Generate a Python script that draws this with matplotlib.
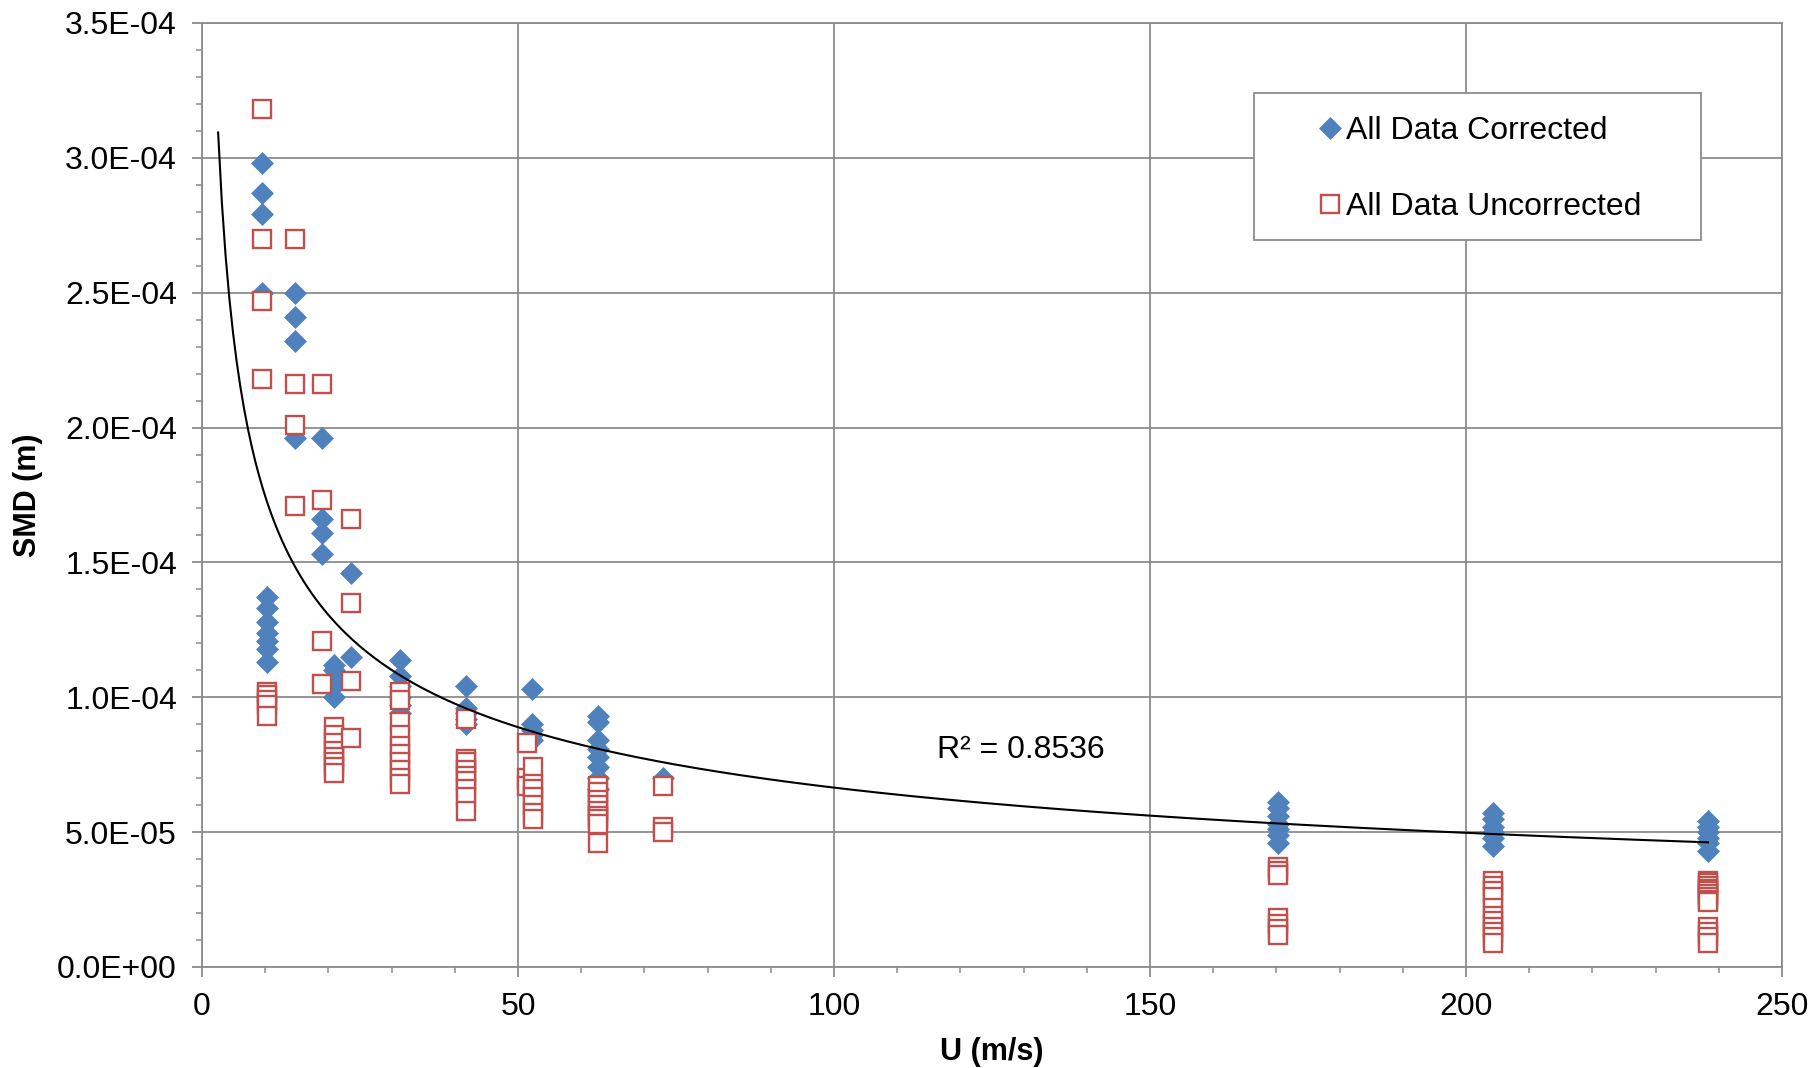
import numpy as np
import matplotlib
matplotlib.use("Agg")
import matplotlib.pyplot as plt
from matplotlib.patches import Rectangle
from matplotlib.ticker import MultipleLocator, FuncFormatter

plt.rcParams['font.family'] = ['Liberation Sans', 'DejaVu Sans']

# ---------------- data ----------------
# velocity groups (m/s) and SMD values (m) for each group
corr_u = [9.5, 10.3, 14.7, 19.0, 20.9, 23.6, 31.3, 41.8, 52.2, 62.6, 72.9, 170.2, 204.2, 238.3]
corr_smd = [
    [2.98e-4, 2.87e-4, 2.79e-4, 2.50e-4],
    [1.37e-4, 1.33e-4, 1.28e-4, 1.24e-4, 1.21e-4, 1.18e-4, 1.13e-4],
    [2.50e-4, 2.41e-4, 2.32e-4, 1.96e-4],
    [1.96e-4, 1.66e-4, 1.61e-4, 1.53e-4],
    [1.12e-4, 1.10e-4, 1.07e-4, 1.04e-4, 1.00e-4],
    [1.46e-4, 1.15e-4],
    [1.14e-4, 1.08e-4, 1.04e-4, 1.00e-4, 0.97e-4, 0.94e-4],
    [1.04e-4, 0.96e-4, 0.94e-4, 0.92e-4, 0.90e-4],
    [1.03e-4, 0.90e-4, 0.88e-4, 0.86e-4, 0.84e-4],
    [0.93e-4, 0.91e-4, 0.84e-4, 0.81e-4, 0.78e-4, 0.74e-4, 0.70e-4, 0.66e-4],
    [0.70e-4],
    [0.61e-4, 0.59e-4, 0.56e-4, 0.53e-4, 0.51e-4, 0.49e-4, 0.46e-4],
    [0.57e-4, 0.55e-4, 0.52e-4, 0.50e-4, 0.48e-4, 0.45e-4],
    [0.54e-4, 0.52e-4, 0.50e-4, 0.48e-4, 0.46e-4, 0.43e-4],
]

unc_u = [9.5, 10.3, 14.7, 19.0, 20.9, 23.6, 31.3, 41.8, 51.5, 52.4, 62.6, 72.9, 170.2, 204.2, 238.3]
unc_smd = [
    [3.18e-4, 2.70e-4, 2.47e-4, 2.18e-4],
    [1.02e-4, 1.01e-4, 0.99e-4, 0.97e-4, 0.93e-4],
    [2.70e-4, 2.16e-4, 2.01e-4, 1.71e-4],
    [2.16e-4, 1.73e-4, 1.21e-4, 1.05e-4],
    [0.89e-4, 0.86e-4, 0.83e-4, 0.80e-4, 0.78e-4, 0.76e-4, 0.74e-4, 0.72e-4],
    [1.66e-4, 1.35e-4, 1.06e-4, 0.85e-4],
    [1.02e-4, 0.99e-4, 0.91e-4, 0.86e-4, 0.82e-4, 0.79e-4, 0.76e-4, 0.73e-4, 0.70e-4, 0.68e-4],
    [0.92e-4, 0.77e-4, 0.76e-4, 0.73e-4, 0.71e-4, 0.69e-4, 0.66e-4, 0.63e-4, 0.58e-4],
    [0.83e-4, 0.70e-4, 0.67e-4],
    [0.74e-4, 0.68e-4, 0.66e-4, 0.63e-4, 0.60e-4, 0.57e-4, 0.55e-4],
    [0.67e-4, 0.65e-4, 0.62e-4, 0.60e-4, 0.58e-4, 0.56e-4, 0.55e-4, 0.53e-4, 0.46e-4],
    [0.67e-4, 0.52e-4, 0.50e-4],
    [0.37e-4, 0.355e-4, 0.34e-4, 0.18e-4, 0.16e-4, 0.14e-4, 0.12e-4],
    [0.32e-4, 0.30e-4, 0.28e-4, 0.26e-4, 0.22e-4, 0.19e-4, 0.17e-4, 0.15e-4, 0.13e-4, 0.11e-4, 0.09e-4],
    [0.32e-4, 0.31e-4, 0.30e-4, 0.29e-4, 0.28e-4, 0.27e-4, 0.26e-4, 0.25e-4, 0.24e-4,
     0.15e-4, 0.13e-4, 0.11e-4, 0.09e-4],
]

# power trendline SMD = a * U^b, coefficients
trend_a = 4.58e-4
trend_b = -0.419
trend_u_range = [2.55, 238.3]
r2_label = "R² = 0.8536"
legend_labels = ["All Data Corrected", "All Data Uncorrected"]
x_ticks = [0, 50, 100, 150, 200, 250]
y_ticks = [0.0, 5e-5, 1e-4, 1.5e-4, 2e-4, 2.5e-4, 3e-4, 3.5e-4]

# ---------------- expand groups ----------------
cu = np.concatenate([[u] * len(v) for u, v in zip(corr_u, corr_smd)])
cs = np.concatenate(corr_smd)
uu = np.concatenate([[u] * len(v) for u, v in zip(unc_u, unc_smd)])
us = np.concatenate(unc_smd)

tx = np.linspace(trend_u_range[0], trend_u_range[1], 400)
ty = trend_a * tx ** trend_b

# ---------------- figure ----------------
fig = plt.figure(figsize=(18.14, 10.68), dpi=100)
ax = fig.add_axes([202 / 1814, 1 - 967 / 1068, 1580 / 1814, 944 / 1068])

blue = '#4F81BD'
red = '#C0504D'
grid_c = '#8C8C8C'

ax.plot(cu, cs, linestyle='none', marker='D', markersize=10.8, color=blue,
        markeredgecolor=blue, markeredgewidth=0.5, label=legend_labels[0], zorder=3)
ax.plot(uu, us, linestyle='none', marker='s', markersize=13, markerfacecolor='white',
        markeredgecolor=red, markeredgewidth=1.7, label=legend_labels[1], zorder=4)
ax.plot(tx, ty, color='black', linewidth=1.5, zorder=5)

ax.set_xlim(0, 250)
ax.set_ylim(0, 3.5e-4)
ax.set_xticks(x_ticks)
ax.set_yticks(y_ticks)
ax.xaxis.set_minor_locator(MultipleLocator(10))
ax.yaxis.set_minor_locator(MultipleLocator(1e-5))
ax.yaxis.set_major_formatter(FuncFormatter(lambda v, p: f"{v:.1E}"))

ax.grid(True, which='major', color=grid_c, linewidth=1.3, zorder=0)
ax.set_axisbelow(True)
for s in ax.spines.values():
    s.set_color(grid_c)
    s.set_linewidth(1.3)

ax.tick_params(axis='both', which='major', labelsize=23, color=grid_c, width=1.3, length=7,
               direction='out')
ax.tick_params(axis='both', which='minor', color=grid_c, width=1.1, length=4.5, direction='out')
ax.tick_params(axis='y', which='major', pad=11)
ax.tick_params(axis='x', which='major', pad=11)

ax.set_xlabel("U (m/s)", fontsize=22, fontweight='bold', labelpad=11)
ax.set_ylabel("SMD (m)", fontsize=22, fontweight='bold', labelpad=10)

ax.text(116.3, 0.804e-4, r2_label, fontsize=23, ha='left', va='center', zorder=6)

# legend box
rect = Rectangle((0.666, 0.770), 0.283, 0.156, transform=ax.transAxes, facecolor='white',
                 edgecolor=grid_c, linewidth=1.3, zorder=7)
ax.add_patch(rect)
leg = ax.legend(loc='upper left', bbox_to_anchor=(0.6955, 0.918), frameon=False, fontsize=23,
                borderpad=0, handlelength=0.8, handletextpad=0.1, labelspacing=1.42,
                markerscale=1.0)
leg.set_zorder(8)

fig.savefig("out.png", dpi=100)
